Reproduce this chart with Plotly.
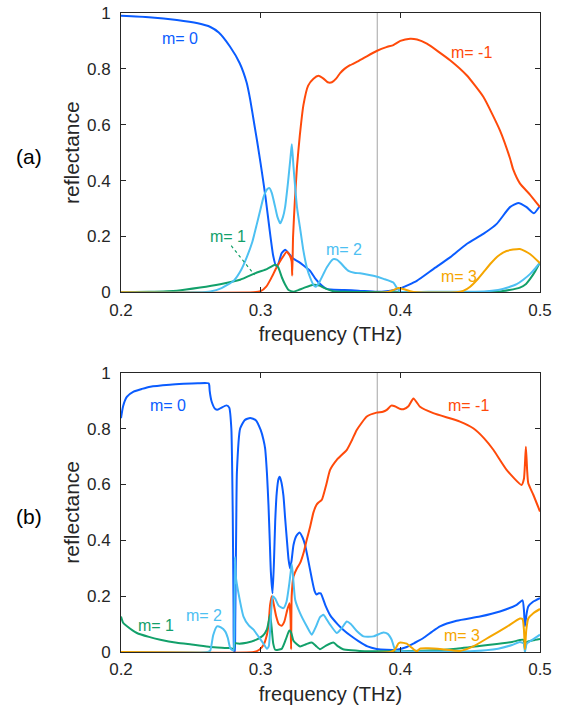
import plotly.graph_objects as go

# ---------------- Panel (a) data ----------------
a_m0_f = [0.2, 0.22, 0.24, 0.255, 0.264, 0.27, 0.278, 0.285, 0.29, 0.2925, 0.2955, 0.2975, 0.3, 0.3035,
          0.3065, 0.309, 0.311, 0.3125, 0.315, 0.3175, 0.32, 0.3235, 0.327, 0.331, 0.3354, 0.339, 0.3426,
          0.347, 0.35, 0.36, 0.37, 0.383, 0.39, 0.4, 0.4118, 0.4236, 0.4356, 0.4475, 0.4594, 0.469,
          0.4785, 0.4844, 0.4904, 0.4956, 0.5]
a_m0_r = [0.99, 0.985, 0.975, 0.963, 0.95, 0.93, 0.88, 0.82, 0.75, 0.69, 0.60, 0.54, 0.46, 0.34,
          0.22, 0.13, 0.095, 0.10, 0.14, 0.152, 0.14, 0.12, 0.11, 0.095, 0.077, 0.05, 0.03,
          0.013, 0.01, 0.008, 0.006, 0.002, 0.004, 0.014, 0.041, 0.083, 0.125, 0.173, 0.209, 0.245,
          0.305, 0.32, 0.305, 0.283, 0.31]

a_mm1_f = [0.2, 0.295, 0.3, 0.304, 0.3075, 0.311, 0.315, 0.3187, 0.321, 0.3222, 0.3226, 0.3232, 0.3245,
           0.326, 0.328, 0.3306, 0.334, 0.3378, 0.3414, 0.345, 0.348, 0.351, 0.354, 0.3569, 0.36, 0.364,
           0.37, 0.376, 0.383, 0.39, 0.395, 0.4, 0.407, 0.412, 0.419, 0.4356, 0.4475, 0.4594, 0.4713,
           0.4785, 0.4808, 0.4856, 0.4928, 0.5]
a_mm1_r = [0.0, 0.0, 0.004, 0.02, 0.05, 0.085, 0.12, 0.145, 0.13, 0.11, 0.06, 0.2, 0.33,
           0.45, 0.56, 0.67, 0.74, 0.765, 0.775, 0.765, 0.752, 0.752, 0.765, 0.785, 0.80, 0.813,
           0.828, 0.845, 0.864, 0.878, 0.885, 0.9, 0.908, 0.905, 0.89, 0.831, 0.777, 0.70, 0.58,
           0.48, 0.44, 0.39, 0.35, 0.305]

a_m1_f = [0.2, 0.22, 0.24, 0.2567, 0.271, 0.2853, 0.2973, 0.3044, 0.308, 0.3104, 0.3125, 0.3152, 0.3175,
          0.32, 0.3235, 0.327, 0.331, 0.3378, 0.342, 0.345, 0.352, 0.36, 0.47, 0.478, 0.4856, 0.49,
          0.4928, 0.4965, 0.5]
a_m1_r = [0.0, 0.002, 0.006, 0.017, 0.029, 0.045, 0.071, 0.083, 0.093, 0.099, 0.09, 0.053, 0.028,
          0.008, 0.002, 0.008, 0.016, 0.027, 0.024, 0.017, 0.004, 0.002, 0.002, 0.008, 0.017, 0.03,
          0.047, 0.075, 0.107]

a_m2_f = [0.2, 0.255, 0.264, 0.272, 0.2806, 0.286, 0.29, 0.294, 0.2973, 0.3, 0.302, 0.3045, 0.3063,
          0.308, 0.3104, 0.312, 0.314, 0.316, 0.3175, 0.3195, 0.3213, 0.3223, 0.3235, 0.326, 0.3285,
          0.3306, 0.333, 0.3354, 0.338, 0.3395, 0.3425, 0.3473, 0.352, 0.3545, 0.3569, 0.36, 0.3628,
          0.367, 0.3712, 0.376, 0.3807, 0.388, 0.395, 0.3974, 0.4, 0.42, 0.46, 0.47, 0.4775, 0.4833,
          0.488, 0.4928, 0.497, 0.5]
a_m2_r = [0.0, 0.0, 0.003, 0.015, 0.041, 0.08, 0.125, 0.18, 0.245, 0.3, 0.34, 0.368, 0.373,
          0.355, 0.305, 0.27, 0.247, 0.27, 0.305, 0.39, 0.48, 0.53, 0.45, 0.305, 0.22,
          0.149, 0.09, 0.053, 0.025, 0.02, 0.041, 0.089, 0.119, 0.117, 0.107, 0.09, 0.077,
          0.07, 0.068, 0.064, 0.059, 0.048, 0.035, 0.017, 0.002, 0.002, 0.003, 0.008, 0.018, 0.029,
          0.045, 0.065, 0.088, 0.107]

a_m3_f = [0.2, 0.39, 0.395, 0.3986, 0.402, 0.407, 0.412, 0.44, 0.445, 0.45, 0.455, 0.46, 0.465, 0.47,
          0.476, 0.4856, 0.4928, 0.5]
a_m3_r = [0.0, 0.0, 0.008, 0.015, 0.012, 0.004, 0.0, 0.0, 0.005, 0.02, 0.045, 0.075, 0.105, 0.13,
          0.148, 0.155, 0.137, 0.104]

# ---------------- Panel (b) data ----------------
b_m0_f = [0.2, 0.2015, 0.2043, 0.209, 0.215, 0.221, 0.235, 0.2448, 0.255, 0.2627, 0.2632, 0.2635, 0.265,
          0.2675, 0.2695, 0.272, 0.2755, 0.2775, 0.279, 0.28, 0.2806, 0.281, 0.2814, 0.2818, 0.2825,
          0.283, 0.2853, 0.2885, 0.2925, 0.2965, 0.3, 0.302, 0.3032, 0.3045, 0.3056, 0.3065, 0.3073,
          0.3085, 0.3095, 0.3104, 0.3115, 0.3128, 0.3135, 0.3145, 0.3163, 0.3175, 0.3187, 0.32, 0.3211,
          0.3222, 0.3235, 0.3255, 0.3278, 0.33, 0.3318, 0.334, 0.3366, 0.3385, 0.34, 0.3415, 0.343,
          0.3465, 0.3497, 0.355, 0.3593, 0.3645, 0.37, 0.3765, 0.383, 0.39, 0.3974, 0.4046, 0.41,
          0.4165, 0.4225, 0.4284, 0.4403, 0.457, 0.4713, 0.4833, 0.4875, 0.4885, 0.4892, 0.4905,
          0.4916, 0.495, 0.5]
b_m0_r = [0.837, 0.88, 0.914, 0.932, 0.942, 0.95, 0.957, 0.96, 0.962, 0.962, 0.955, 0.935, 0.895,
          0.87, 0.868, 0.875, 0.883, 0.875, 0.8, 0.5, 0.15, 0.0, 0.0, 0.11, 0.45,
          0.645, 0.8, 0.83, 0.838, 0.83, 0.795, 0.76, 0.728, 0.64, 0.526, 0.4, 0.287,
          0.21, 0.32, 0.466, 0.57, 0.62, 0.627, 0.615, 0.56, 0.48, 0.406, 0.33, 0.299,
          0.33, 0.383, 0.415, 0.428, 0.41, 0.383, 0.33, 0.263, 0.22, 0.206, 0.21, 0.21,
          0.165, 0.132, 0.1, 0.079, 0.058, 0.039, 0.02, 0.011, 0.008, 0.008, 0.018, 0.032,
          0.05, 0.072, 0.092, 0.112, 0.127, 0.145, 0.169, 0.185, 0.15, 0.092, 0.14,
          0.163, 0.18, 0.193]

b_mm1_f = [0.2, 0.295, 0.299, 0.302, 0.3044, 0.3056, 0.3068, 0.308, 0.309, 0.311, 0.313, 0.315, 0.317,
           0.319, 0.3206, 0.3214, 0.3218, 0.3222, 0.3235, 0.326, 0.3282, 0.331, 0.333, 0.3355, 0.3378,
           0.34, 0.3414, 0.3438, 0.347, 0.3497, 0.3545, 0.3617, 0.3655, 0.3688, 0.376, 0.383, 0.3875,
           0.3903, 0.3935, 0.396, 0.4, 0.4022, 0.4058, 0.4094, 0.4141, 0.4236, 0.4427, 0.4522, 0.46,
           0.4666, 0.4761, 0.4868, 0.4885, 0.4899, 0.4908, 0.4916, 0.4952, 0.5]
b_mm1_r = [0.0, 0.0, 0.008, 0.025, 0.06, 0.097, 0.17, 0.2, 0.18, 0.13, 0.1, 0.094, 0.11,
           0.15, 0.175, 0.12, 0.01, 0.2, 0.27, 0.3, 0.318, 0.36, 0.402, 0.45, 0.5,
           0.527, 0.535, 0.545, 0.6, 0.652, 0.688, 0.724, 0.76, 0.795, 0.843, 0.857, 0.86,
           0.867, 0.882, 0.88, 0.87, 0.869, 0.88, 0.908, 0.878, 0.855, 0.825, 0.801, 0.765,
           0.724, 0.652, 0.598, 0.62, 0.735, 0.65, 0.604, 0.563, 0.503]

b_m1_f = [0.2, 0.2015, 0.2043, 0.2114, 0.22, 0.2281, 0.24, 0.252, 0.2639, 0.278, 0.2808, 0.2815, 0.284,
          0.29, 0.297, 0.3015, 0.3044, 0.3058, 0.3068, 0.3078, 0.309, 0.3104, 0.315, 0.318, 0.3205,
          0.3218, 0.3235, 0.3282, 0.3325, 0.3366, 0.3395, 0.3425, 0.3465, 0.352, 0.3555, 0.359, 0.365,
          0.371, 0.4, 0.42, 0.44, 0.4642, 0.48, 0.488, 0.4892, 0.4905, 0.495, 0.5]
b_m1_r = [0.127, 0.105, 0.092, 0.068, 0.054, 0.044, 0.033, 0.026, 0.018, 0.014, 0.012, 0.032, 0.03,
          0.033, 0.044, 0.058, 0.08, 0.11, 0.133, 0.09, 0.03, 0.008, 0.011, 0.045, 0.077,
          0.07, 0.04, 0.02, 0.028, 0.034, 0.022, 0.01, 0.022, 0.034, 0.02, 0.01, 0.006,
          0.004, 0.003, 0.005, 0.012, 0.026, 0.036, 0.044, 0.01, 0.035, 0.042, 0.047]

b_m2_f = [0.2, 0.262, 0.2639, 0.266, 0.2687, 0.2715, 0.2746, 0.2765, 0.2782, 0.2805, 0.2812, 0.2816,
          0.2822, 0.2841, 0.2877, 0.2915, 0.2949, 0.2985, 0.302, 0.3044, 0.3058, 0.3072, 0.3087, 0.3105,
          0.313, 0.3163, 0.3185, 0.3205, 0.3223, 0.3235, 0.3247, 0.3282, 0.333, 0.3366, 0.3395, 0.3425,
          0.3449, 0.3475, 0.3497, 0.3545, 0.358, 0.3617, 0.3645, 0.3688, 0.3736, 0.3807, 0.3878, 0.391,
          0.3938, 0.3965, 0.4, 0.45, 0.47, 0.48, 0.4856, 0.4885, 0.4892, 0.4905, 0.495, 0.5]
b_m2_r = [0.0, 0.0, 0.005, 0.06, 0.092, 0.088, 0.074, 0.05, 0.014, 0.005, 0.12, 0.34,
          0.27, 0.211, 0.127, 0.095, 0.08, 0.055, 0.03, 0.012, 0.02, 0.12, 0.2, 0.19,
          0.165, 0.157, 0.18, 0.245, 0.315, 0.25, 0.187, 0.139, 0.092, 0.062, 0.09, 0.125,
          0.133, 0.115, 0.098, 0.068, 0.085, 0.109, 0.1, 0.075, 0.056, 0.056, 0.07, 0.065,
          0.044, 0.005, 0.003, 0.003, 0.012, 0.025, 0.036, 0.03, 0.0, 0.03, 0.045, 0.062]

b_m3_f = [0.2, 0.393, 0.3963, 0.3985, 0.4, 0.4046, 0.4075, 0.4094, 0.4118, 0.4141, 0.42, 0.43, 0.4427,
          0.4522, 0.4642, 0.4761, 0.4856, 0.4875, 0.4885, 0.4892, 0.4902, 0.4916, 0.4952, 0.5]
b_m3_r = [0.0, 0.0, 0.01, 0.03, 0.034, 0.03, 0.018, 0.01, 0.002, 0.012, 0.013, 0.01, 0.004,
          0.02, 0.055, 0.09, 0.12, 0.118, 0.08, 0.01, 0.08, 0.12, 0.139, 0.154]

cutoff_freq = 0.3835

x_ticks = [0.2, 0.3, 0.4, 0.5]
x_ticklabels = ["0.2", "0.3", "0.4", "0.5"]
y_ticks = [0, 0.2, 0.4, 0.6, 0.8, 1]
y_ticklabels = ["0", "0.2", "0.4", "0.6", "0.8", "1"]

series_names = ["m= 0", "m= -1", "m= 1", "m= 2", "m= 3"]
colors = ["#0a5cff", "#ff4a0a", "#12a06a", "#4dc0f2", "#f5a600"]

FONT = "Liberation Sans, Arial, Helvetica, sans-serif"
TXT = "#262626"

fig = go.Figure()

panel_a = [(a_m0_f, a_m0_r), (a_mm1_f, a_mm1_r), (a_m1_f, a_m1_r), (a_m2_f, a_m2_r), (a_m3_f, a_m3_r)]
panel_b = [(b_m0_f, b_m0_r), (b_mm1_f, b_mm1_r), (b_m1_f, b_m1_r), (b_m2_f, b_m2_r), (b_m3_f, b_m3_r)]

for (xs, ys), name, col in zip(panel_a, series_names, colors):
    fig.add_trace(go.Scatter(x=xs, y=ys, mode="lines", name=name, xaxis="x", yaxis="y",
                             line=dict(color=col, width=2, shape="spline", smoothing=0.5),
                             showlegend=False))
for (xs, ys), name, col in zip(panel_b, series_names, colors):
    fig.add_trace(go.Scatter(x=xs, y=ys, mode="lines", name=name, xaxis="x2", yaxis="y2",
                             line=dict(color=col, width=2, shape="spline", smoothing=0.5),
                             showlegend=False))

# cutoff vertical lines
for xr, yr in [("x", "y"), ("x2", "y2")]:
    fig.add_shape(type="line", xref=xr, yref=yr, x0=cutoff_freq, x1=cutoff_freq, y0=0, y1=1,
                  line=dict(color="#b4b4b4", width=1.2), layer="below")

# dotted leader for m=1 in (a)
fig.add_shape(type="line", xref="x", yref="y", x0=0.2789, y0=0.167, x1=0.2956, y1=0.062,
              line=dict(color=colors[2], width=1.2, dash="dot"))

def axis_common():
    return dict(showline=True, linecolor=TXT, linewidth=1, mirror="ticks", automargin=False,
                ticks="inside", ticklen=5, tickcolor=TXT, tickwidth=1, showgrid=False,
                zeroline=False, tickfont=dict(family=FONT, size=17, color=TXT))

xa = axis_common()
xa.update(range=[0.2, 0.5], tickvals=x_ticks, ticktext=x_ticklabels, ticklabelstandoff=2,
          title=dict(text="frequency (THz)", font=dict(family=FONT, size=20, color=TXT), standoff=8))
ya = axis_common()
ya.update(range=[0, 1], tickvals=y_ticks, ticktext=y_ticklabels, ticklabelstandoff=6,
          title=dict(text="reflectance", font=dict(family=FONT, size=21, color=TXT), standoff=1))

fig.update_layout(
    width=569, height=706,
    margin=dict(l=121, r=29, t=13, b=54, autoexpand=False),
    paper_bgcolor="white", plot_bgcolor="white",
    xaxis=dict(xa, domain=[0, 1], anchor="y"),
    yaxis=dict(ya, domain=[0.5629, 1], anchor="x"),
    xaxis2=dict(xa, domain=[0, 1], anchor="y2"),
    yaxis2=dict(ya, domain=[0, 0.4371], anchor="x2"),
    showlegend=False,
)

# curve labels
labels_a = [(0.2425, 0.907, "m= 0", colors[0]), (0.4511, 0.857, "m= -1", colors[1]),
            (0.2764, 0.20, "m= 1", colors[2]), (0.3594, 0.153, "m= 2", colors[3]),
            (0.4421, 0.057, "m= 3", colors[4])]
labels_b = [(0.2333, 0.882, "m= 0", colors[0]), (0.4487, 0.882, "m= -1", colors[1]),
            (0.2254, 0.095, "m= 1", colors[2]), (0.2597, 0.13, "m= 2", colors[3]),
            (0.4445, 0.058, "m= 3", colors[4])]
for x, y, t, c in labels_a:
    fig.add_annotation(x=x, y=y, xref="x", yref="y", text=t, showarrow=False,
                       font=dict(family=FONT, size=16, color=c))
for x, y, t, c in labels_b:
    fig.add_annotation(x=x, y=y, xref="x2", yref="y2", text=t, showarrow=False,
                       font=dict(family=FONT, size=16, color=c))

# panel labels
fig.add_annotation(x=-0.2187, y=0.7752, xref="paper", yref="paper", text="(a)", showarrow=False,
                   xanchor="center", yanchor="middle", font=dict(family=FONT, size=21, color="black"))
fig.add_annotation(x=-0.2187, y=0.2121, xref="paper", yref="paper", text="(b)", showarrow=False,
                   xanchor="center", yanchor="middle", font=dict(family=FONT, size=21, color="black"))

fig.write_html("out.html")
